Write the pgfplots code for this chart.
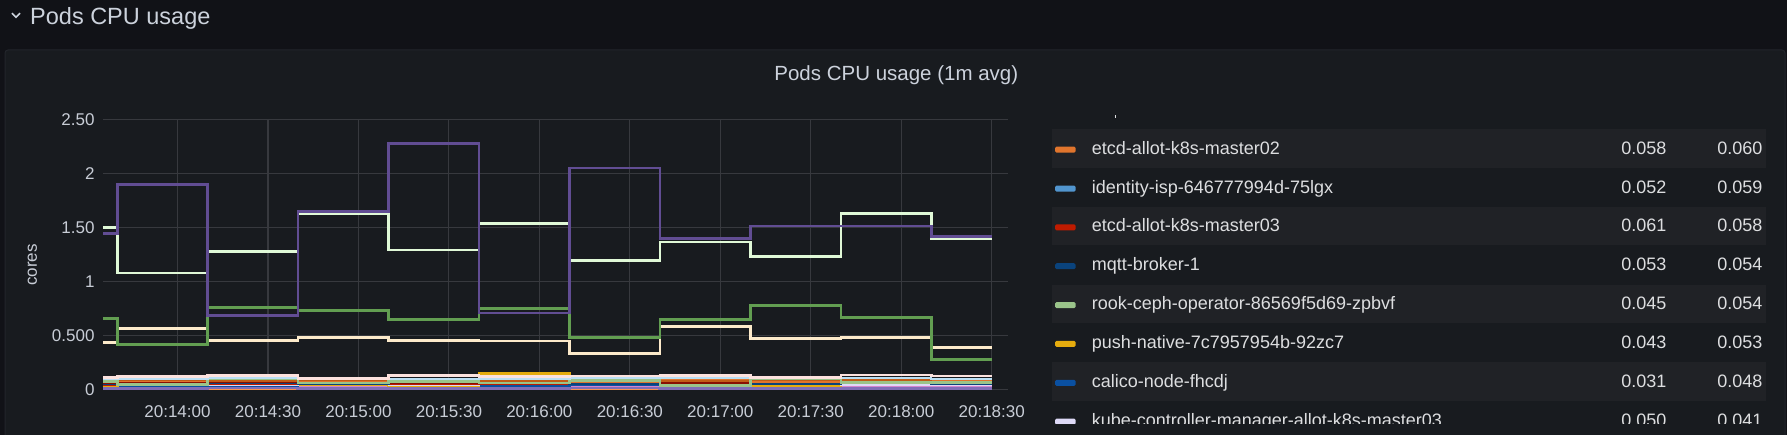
\documentclass[border=0pt]{standalone}
\usepackage{fontspec}
\setmainfont{Liberation Sans}
\usepackage{pgfplots}
\usepackage{pgfplotstable}
\pgfplotsset{compat=1.18}

\definecolor{outerbg}{HTML}{111217}
\definecolor{panelbg}{HTML}{181B1F}
\definecolor{panelborder}{HTML}{22252B}
\definecolor{rowbg}{HTML}{202226}
\definecolor{gridc}{HTML}{37393E}
\definecolor{tickc}{HTML}{C8CDD6}
\definecolor{textc}{HTML}{DDDEE0}
\definecolor{headc}{HTML}{CCD2DC}

\definecolor{cPurple}{HTML}{614D93}
\definecolor{cPaleGreen}{HTML}{E0F9D7}
\definecolor{cGreen}{HTML}{629E51}
\definecolor{cCream}{HTML}{FCEACA}
\definecolor{cE0752D}{HTML}{E0752D}
\definecolor{c5195CE}{HTML}{5195CE}
\definecolor{cBF1B00}{HTML}{BF1B00}
\definecolor{c0A437C}{HTML}{0A437C}
\definecolor{c9AC48A}{HTML}{9AC48A}
\definecolor{cE5AC0E}{HTML}{E5AC0E}
\definecolor{c0A50A1}{HTML}{0A50A1}
\definecolor{cDEDAF7}{HTML}{DEDAF7}
\definecolor{cFCE2DE}{HTML}{FCE2DE}
\definecolor{cD683CE}{HTML}{D683CE}
\definecolor{c806EB7}{HTML}{806EB7}
\definecolor{c890F02}{HTML}{890F02}
\definecolor{cF9934E}{HTML}{F9934E}
\definecolor{cBADFF4}{HTML}{BADFF4}
\definecolor{cC15C17}{HTML}{C15C17}
\definecolor{c64B0C8}{HTML}{64B0C8}

% time in seconds relative to 20:14:00
\pgfplotstableread{
t      purple pgreen green cream  l1    l2    l3    l4    l5    l6    l7    l8    l9    l10   l11   l12   l13   l14   l15   l16
-24.6  1.444  1.500  0.654 0.438  0.113 0.076 0.072 0.058 0.048 0.050 0.040 0.030 0.050 0.035 0.015 0.060 0.003 0.100 0.085 0.062
-20    1.894  1.077  0.416 0.565  0.118 0.045 0.078 0.055 0.050 0.052 0.045 0.035 0.050 0.033 0.015 0.062 0.003 0.100 0.088 0.060
10     0.685  1.274  0.756 0.456  0.130 0.097 0.080 0.050 0.055 0.062 0.055 0.030 0.040 0.035 0.018 0.065 0.003 0.110 0.082 0.058
40     1.648  1.630  0.731 0.478  0.100 0.060 0.085 0.060 0.058 0.055 0.045 0.040 0.050 0.030 0.015 0.062 0.003 0.105 0.090 0.064
70     2.274  1.290  0.648 0.456  0.130 0.072 0.088 0.055 0.055 0.060 0.040 0.035 0.045 0.035 0.016 0.064 0.003 0.100 0.092 0.060
100    0.709  1.537  0.750 0.450  0.119 0.060 0.070 0.050 0.057 0.088 0.150 0.030 0.050 0.033 0.015 0.060 0.003 0.100 0.080 0.058
130    2.049  1.194  0.478 0.330  0.125 0.082 0.072 0.060 0.060 0.050 0.050 0.045 0.050 0.030 0.017 0.066 0.003 0.110 0.086 0.062
160    1.395  1.364  0.648 0.583  0.130 0.040 0.085 0.055 0.058 0.055 0.045 0.030 0.040 0.035 0.015 0.064 0.003 0.108 0.082 0.060
190    1.512  1.231  0.778 0.475  0.110 0.103 0.075 0.050 0.070 0.050 0.040 0.035 0.050 0.032 0.016 0.072 0.003 0.119 0.090 0.058
220    1.512  1.630  0.663 0.481  0.135 0.065 0.080 0.068 0.065 0.060 0.050 0.040 0.045 0.030 0.015 0.068 0.003 0.110 0.085 0.066
250    1.413  1.392  0.278 0.389  0.125 0.063 0.090 0.062 0.055 0.055 0.045 0.048 0.041 0.035 0.016 0.062 0.003 0.100 0.095 0.064
270    1.413  1.392  0.278 0.389  0.125 0.063 0.090 0.062 0.055 0.055 0.045 0.048 0.041 0.035 0.016 0.062 0.003 0.100 0.095 0.064
}\data

\newcommand{\fs}[1]{\fontsize{#1}{#1}\selectfont}

\begin{document}
\begin{tikzpicture}
\begin{scope}[x=1pt,y=-1pt]
  \path[use as bounding box, fill=outerbg] (0,0) rectangle (1787,435);
  % panel
  \fill[panelbg, draw=panelborder, line width=1pt, rounded corners=3pt] (5,50) rectangle (1785,445);
  % heading
  \draw[headc, line width=1.5pt] (12,13.2) -- (16,17.2) -- (20,13.2);
  \node[anchor=base west, inner sep=0pt, text=headc, font=\fs{23.5}] at (30,24.5) {Pods CPU usage};
  % panel title
  \node[anchor=base, inner sep=0pt, text=headc, font=\fs{20.5}] at (896.3,80.5) {Pods CPU usage (1m avg)};
  % y label
  \node[rotate=90, inner sep=0pt, text=tickc, font=\fs{17}] at (32.3,265) {cores};
  % legend
  \begin{scope}
    \clip (1040,100) rectangle (1780,423);
    \draw[textc, line width=1pt] (1115,115.5) -- (1115,118.5);
    \foreach \k/\name/\col/\va/\vb in {
      0/etcd-allot-k8s-master02/cE0752D/0.058/0.060,
      1/identity-isp-646777994d-75lgx/c5195CE/0.052/0.059,
      2/etcd-allot-k8s-master03/cBF1B00/0.061/0.058,
      3/mqtt-broker-1/c0A437C/0.053/0.054,
      4/rook-ceph-operator-86569f5d69-zpbvf/c9AC48A/0.045/0.054,
      5/push-native-7c7957954b-92zc7/cE5AC0E/0.043/0.053,
      6/calico-node-fhcdj/c0A50A1/0.031/0.048,
      7/kube-controller-manager-allot-k8s-master03/cDEDAF7/0.050/0.041}{
      \pgfmathsetmacro{\yt}{129.3+38.85*\k}
      \pgfmathparse{int(mod(\k,2))}
      \ifnum\pgfmathresult=0
        \fill[rowbg] (1051.7,\yt) rectangle (1765.7,\yt+38.4);
      \fi
      \fill[\col, rounded corners=1.5pt] (1055,\yt+17.4) rectangle (1075.7,\yt+23.4);
      \node[anchor=base west, inner sep=0pt, text=textc, font=\fs{18}] at (1091.7,\yt+25) {\name};
      \node[anchor=base east, inner sep=0pt, text=textc, font=\fs{18}] at (1666.5,\yt+25) {\va};
      \node[anchor=base east, inner sep=0pt, text=textc, font=\fs{18}] at (1762.5,\yt+25) {\vb};
    }
  \end{scope}
\end{scope}

\begin{axis}[
  at={(103.3pt,-389.5pt)}, anchor=south west,
  width=904.7pt, height=270.2pt, scale only axis,
  xmin=-24.6, xmax=275.4, ymin=0, ymax=2.5,
  clip=false,
  axis line style={draw=none},
  tick style={draw=none},
  xtick={0,30,60,90,120,150,180,210,240,270},
  xticklabels={20:14:00,20:14:30,20:15:00,20:15:30,20:16:00,20:16:30,20:17:00,20:17:30,20:18:00,20:18:30},
  ytick={0,0.5,1,1.5,2,2.5},
  yticklabels={0,0.500,1,1.50,2,2.50},
  /pgf/number format/assume math mode=true,
  grid=major,
  major grid style={draw=gridc, line width=1.1pt},
  x tick label style={font=\fs{17}, text=tickc, anchor=base, inner sep=0pt, yshift=-27.5pt},
  y tick label style={font=\fs{17}, text=tickc, anchor=east, inner sep=0pt, xshift=-8.6pt},
  every axis plot/.append style={const plot, line width=2.7pt, mark=none},
]
  \addplot[color=cF9934E, line width=2pt] table[x=t,y=l13]{\data};
  \addplot[color=c806EB7, line width=3.5pt] table[x=t,y=l11]{\data};
  \addplot[color=cD683CE, line width=2pt] table[x=t,y=l10]{\data};
  \addplot[color=c0A50A1, line width=2pt] table[x=t,y=l8]{\data};
  \addplot[color=cE5AC0E] table[x=t,y=l7]{\data};
  \addplot[color=cDEDAF7, line width=2pt] table[x=t,y=l9]{\data};
  \addplot[color=c64B0C8, line width=2pt] table[x=t,y=l16]{\data};
  \addplot[color=c5195CE] table[x=t,y=l4]{\data};
  \addplot[color=cBF1B00] table[x=t,y=l5]{\data};
  \addplot[color=c0A437C] table[x=t,y=l6]{\data};
  \addplot[color=c890F02, line width=2pt] table[x=t,y=l12]{\data};
  \addplot[color=cE0752D] table[x=t,y=l3]{\data};
  \addplot[color=cC15C17, line width=2pt] table[x=t,y=l15]{\data};
  \addplot[color=c9AC48A] table[x=t,y=l2]{\data};
  \addplot[color=cBADFF4, line width=2pt] table[x=t,y=l14]{\data};
  \addplot[color=cFCE2DE] table[x=t,y=l1]{\data};
  \addplot[color=cCream] table[x=t,y=cream]{\data};
  \addplot[color=cGreen] table[x=t,y=green]{\data};
  \addplot[color=cPaleGreen] table[x=t,y=pgreen]{\data};
  \addplot[color=cPurple] table[x=t,y=purple]{\data};
\end{axis}
\end{tikzpicture}
\end{document}
